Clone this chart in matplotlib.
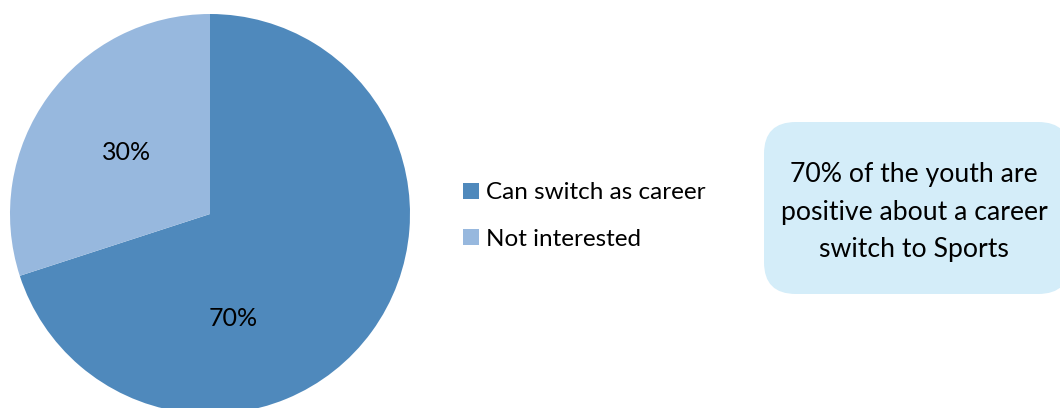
import matplotlib.pyplot as plt
from matplotlib.patches import FancyBboxPatch, Patch

labels = ['Can switch as career', 'Not interested']
shares = [70, 30]
colors = ['#4F89BC', '#97B8DE']

W, H = 1060, 408
fig = plt.figure(figsize=(W / 100, H / 100), dpi=100)
plt.rcParams['font.family'] = ['Lato', 'DejaVu Sans']

# pie axes placed in pixel units (circle of radius 200 px centred at 210, 214)
cx, cy, r = 210, 214, 200
ax = fig.add_axes([(cx - r) / W, (H - cy - r) / H, 2 * r / W, 2 * r / H])
wedges, texts = ax.pie(shares, colors=colors, startangle=90, counterclock=False,
                       radius=1, wedgeprops=dict(linewidth=0))
ax.set_xlim(-1, 1)
ax.set_ylim(-1, 1)
ax.set_aspect('auto')
ax.axis('off')

# percentage labels
ax.text(0.115, -0.52, f'{shares[0]}%', ha='center', va='center', fontsize=18)
ax.text(-0.415, 0.305, f'{shares[1]}%', ha='center', va='center', fontsize=18)

# legend
handles = [Patch(facecolor=c, edgecolor='none') for c in colors]
fig.legend(handles, labels, loc='center left', bbox_to_anchor=(456 / W, 1 - 216 / H),
           frameon=False, fontsize=17.5, handlelength=0.65, handleheight=0.65,
           handletextpad=0.3, labelspacing=1.05, borderpad=0, borderaxespad=0.3)

# callout box
bx0, by0, bx1, by1 = 764, 122, 1070, 294
box = FancyBboxPatch((bx0 / W, 1 - by1 / H), (bx1 - bx0) / W, (by1 - by0) / H,
                     boxstyle='round,pad=0,rounding_size=0.03',
                     transform=fig.transFigure, facecolor='#D4EDF9',
                     edgecolor='none', mutation_aspect=W / H)
fig.add_artist(box)
fig.text(914 / W, 1 - 212 / H,
         '70% of the youth are\npositive about a career\nswitch to Sports',
         ha='center', va='center', fontsize=19.2, linespacing=1.62)

fig.savefig('out.png', dpi=100)
